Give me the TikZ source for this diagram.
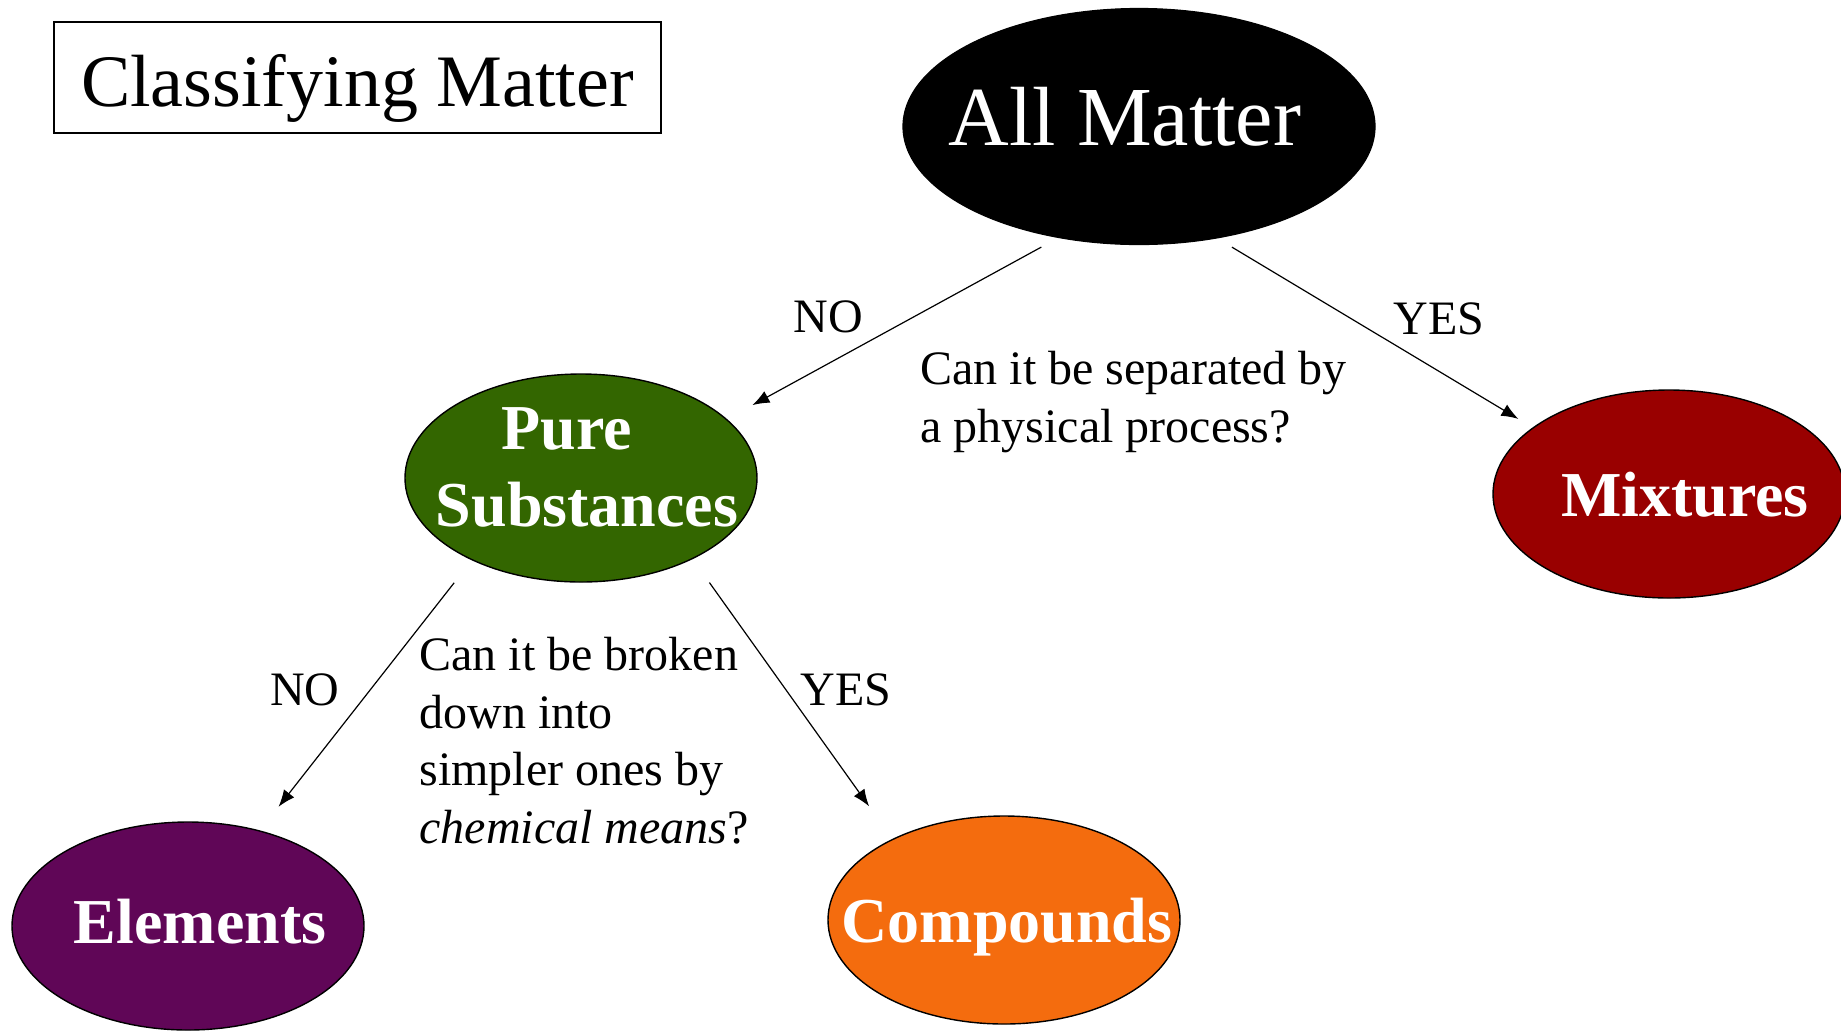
\documentclass[tikz,border=0pt]{standalone}
\usepackage{fontspec}
\setmainfont{Liberation Serif}
\usetikzlibrary{shapes,arrows.meta}

\definecolor{pure_green}{HTML}{336600}
\definecolor{mixture_red}{HTML}{990000}
\definecolor{element_purple}{HTML}{600657}
\definecolor{compound_orange}{HTML}{F46C0E}

\begin{document}
\begin{tikzpicture}[x=0.5pt, y=-0.5pt,
    block_title/.style ={rectangle, draw=black, line width=0.8pt, fill=white,
      minimum width=303.5pt, minimum height=55.5pt, inner sep=0pt,
      text height=28.5pt, text depth=0pt,
      font=\fontsize{37}{44.4}\selectfont},
    blob_big/.style ={ellipse, draw=black, line width=0.6pt,
      minimum width=236pt, minimum height=118pt, inner sep=0pt},
    blob_small/.style ={ellipse, draw=black, line width=0.7pt,
      minimum width=176pt, minimum height=104pt, inner sep=0pt},
    blob_text/.style ={text=white, inner sep=0pt, text depth=0pt, align=center,
      font=\fontsize{32}{38.4}\selectfont\bfseries},
    big_text/.style ={text=white, inner sep=0pt, text depth=0pt,
      font=\fontsize{42}{50.4}\selectfont},
    answer/.style ={inner sep=0pt, font=\fontsize{24}{28.8}\selectfont},
    question/.style ={inner sep=0pt, anchor=north west, align=left,
      font=\fontsize{24}{28.8}\selectfont},
    line/.style ={draw, line width=0.6pt, -{Latex[length=8.5pt, width=6.5pt]}}]
    \useasboundingbox (0,0) rectangle (1841,1030);
    % title and the five classes
    \node [block_title] (title) at (357.5,77.5) {Classifying Matter};
    \node [blob_big, fill=black,
      label={[big_text, xshift=-7pt, yshift=5pt]center:All Matter}] (all_matter) at (1139,126.5) {};
    \node [blob_small, fill=pure_green,
      label={[blob_text, xshift=3pt, yshift=5.5pt]center:Pure\hspace*{20pt}\\Substances}] (pure_subst) at (581,478) {};
    \node [blob_small, fill=mixture_red,
      label={[blob_text, xshift=8pt]center:Mixtures}] (mixtures) at (1669,494) {};
    \node [blob_small, fill=element_purple,
      label={[blob_text, xshift=6pt, yshift=2.4pt]center:Elements}] (elements) at (188,926) {};
    \node [blob_small, fill=compound_orange,
      label={[blob_text, xshift=1.5pt]center:Compounds}] (compounds) at (1004,920) {};
    % questions and answers
    \node [question] (question_phys) at (920,351) {Can it be separated by\\a physical process?};
    \node [question] (question_chem) at (419,637) {Can it be broken\\down into\\simpler ones by\\\textit{chemical means}?};
    \node [answer] (no_phys) at (828,317) {NO};
    \node [answer] (yes_phys) at (1439,319) {YES};
    \node [answer] (no_chem) at (305,690) {NO};
    \node [answer] (yes_chem) at (846,690) {YES};
    % connecting nodes with paths
    \begin{scope}[every path/.style=line]
      \path [shorten <=9.5pt, shorten >=14.5pt] (all_matter.234) -- (pure_subst.22);
      \path [shorten <=8.5pt, shorten >=8.3pt] (all_matter.305) -- (mixtures.154);
      \path [shorten <=14.3pt, shorten >=15pt] (pure_subst.217) -- (elements.53);
      \path [shorten <=14.4pt, shorten >=20pt] (pure_subst.324) -- (compounds.144);
    \end{scope}
  \end{tikzpicture}
\end{document}
